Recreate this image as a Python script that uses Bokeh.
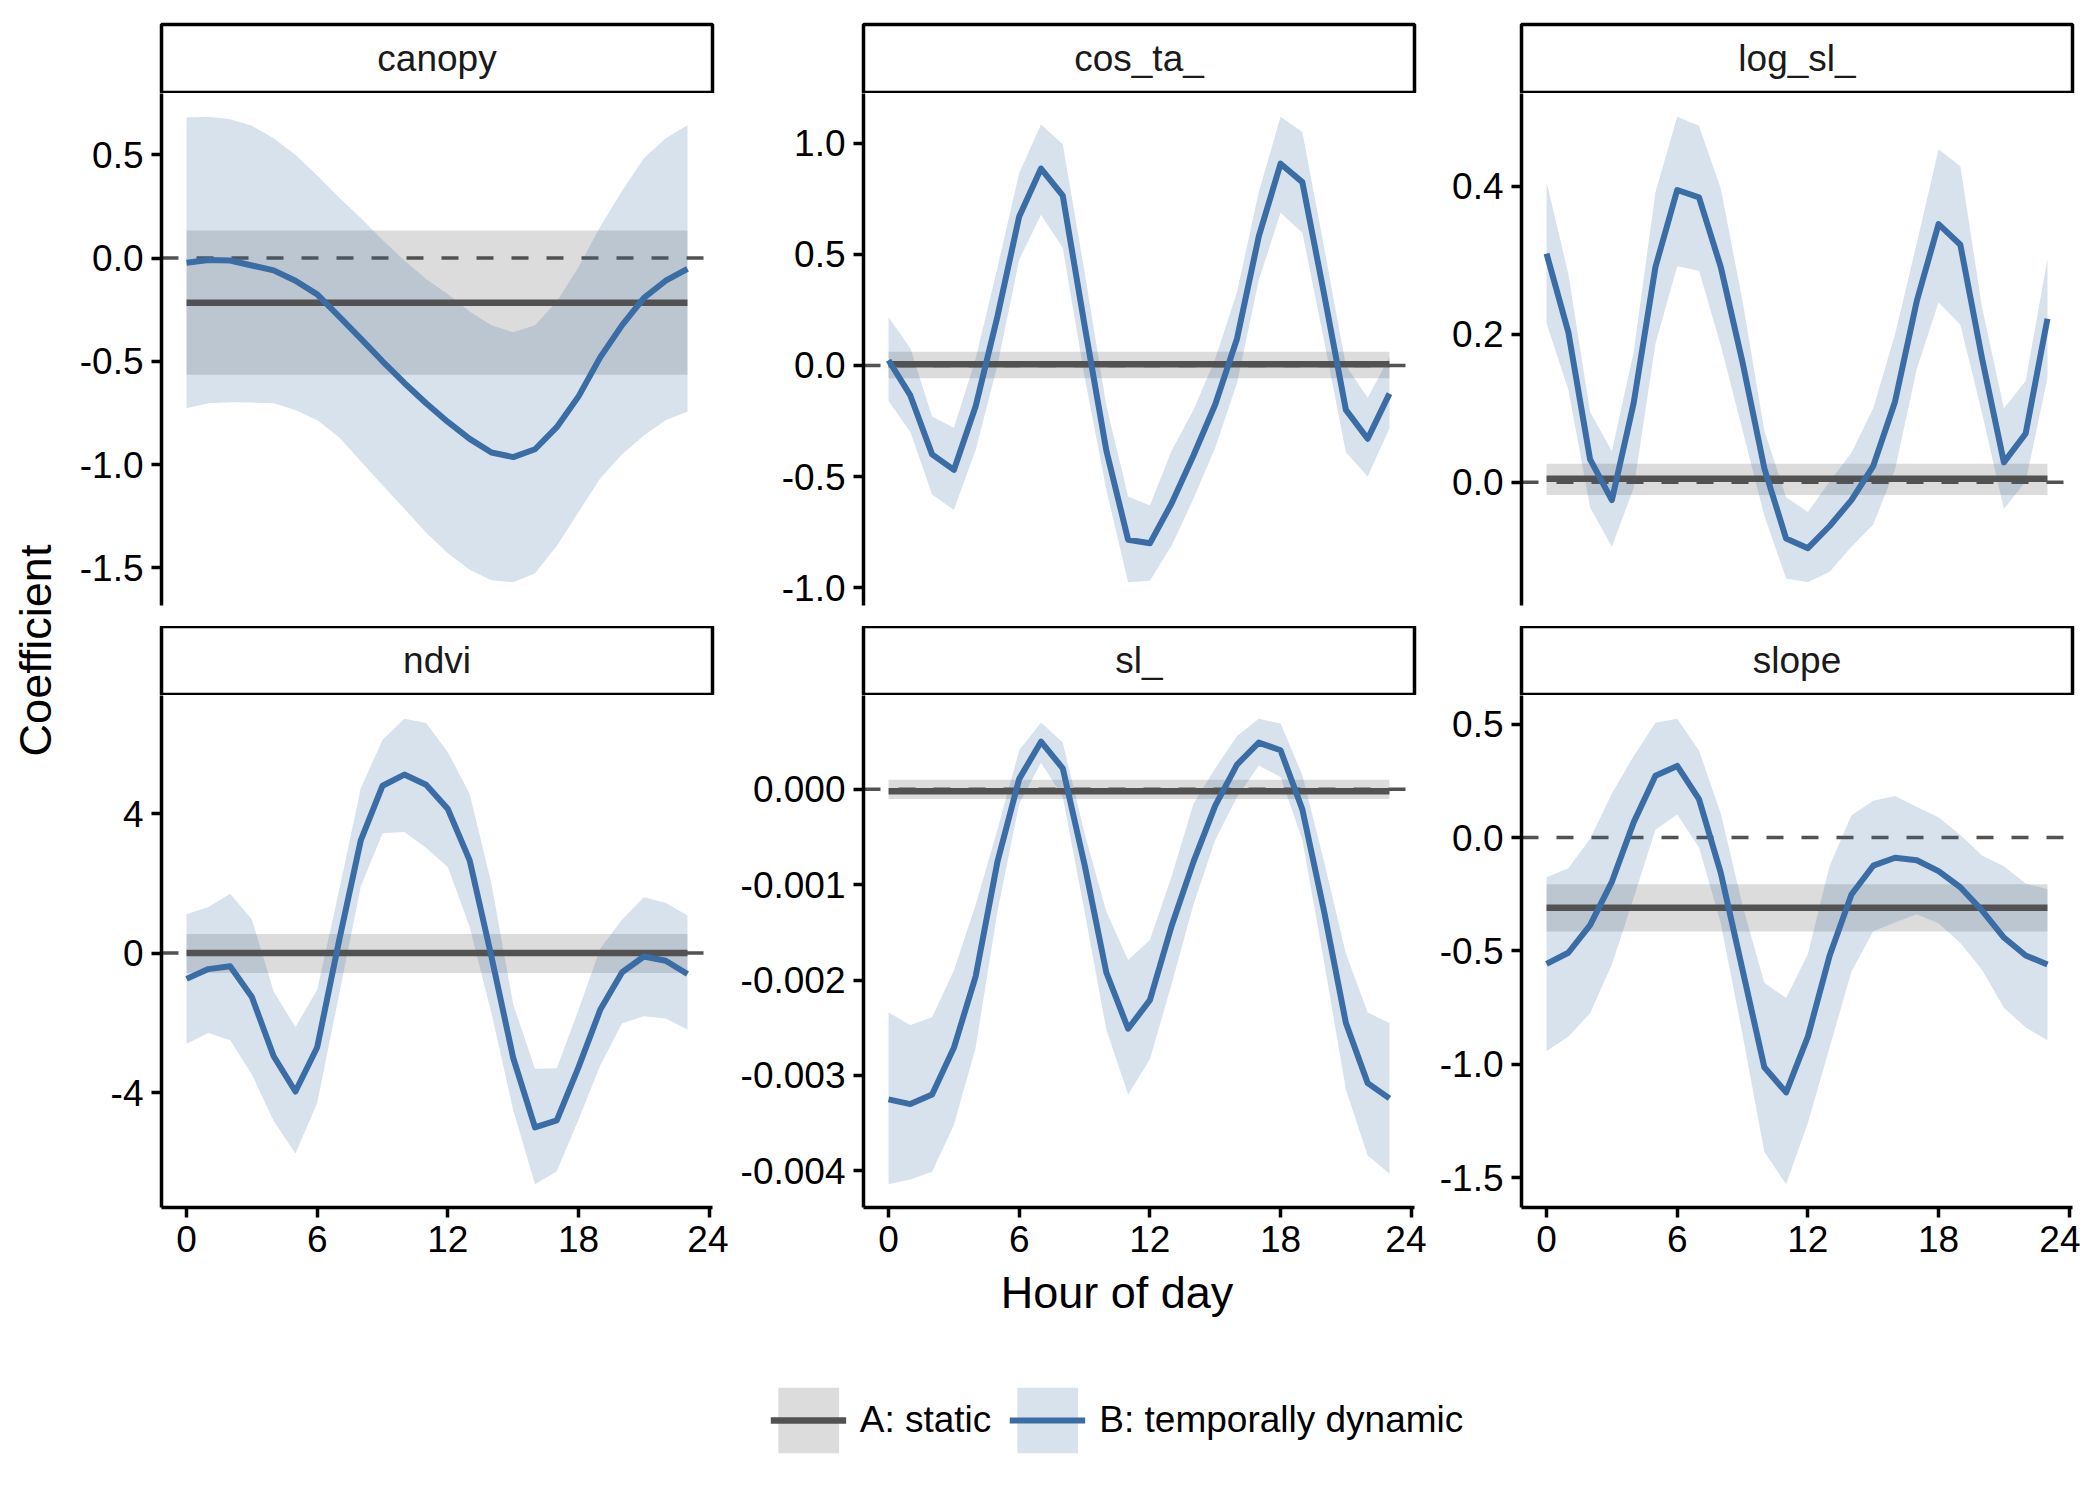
import math
from bokeh.plotting import figure
from bokeh.layouts import row, column
from bokeh.models import Range1d, FixedTicker, Span, Legend, LegendItem, Spacer
from bokeh.core.properties import value
from bokeh.embed import file_html
from bokeh.resources import INLINE

# ---------------- data ----------------
hours = list(range(24))
panel_names = ["canopy", "cos_ta_", "log_sl_", "ndvi", "sl_", "slope"]

canopy_est = [-0.023, -0.010, -0.012, -0.036, -0.060, -0.110, -0.176, -0.283, -0.390, -0.500, -0.605, -0.703,
              -0.794, -0.876, -0.942, -0.964, -0.926, -0.819, -0.670, -0.480, -0.325, -0.193, -0.110, -0.053]
canopy_hi = [0.680, 0.684, 0.672, 0.640, 0.580, 0.500, 0.400, 0.293, 0.194, 0.087, -0.012, -0.102,
             -0.176, -0.259, -0.325, -0.360, -0.325, -0.210, -0.044, 0.153, 0.326, 0.483, 0.580, 0.643]
canopy_lo = [-0.728, -0.703, -0.698, -0.700, -0.703, -0.736, -0.786, -0.868, -0.984, -1.100, -1.214, -1.330,
             -1.430, -1.510, -1.560, -1.570, -1.527, -1.395, -1.230, -1.066, -0.950, -0.860, -0.786, -0.745]

cos_est = [0.023, -0.135, -0.400, -0.470, -0.184, 0.220, 0.670, 0.885, 0.763, 0.180, -0.383, -0.784,
           -0.800, -0.620, -0.405, -0.176, 0.120, 0.580, 0.907, 0.824, 0.320, -0.200, -0.330, -0.127]
cos_hi = [0.217, 0.077, -0.230, -0.280, 0.030, 0.440, 0.865, 1.083, 0.995, 0.420, -0.180, -0.590,
          -0.630, -0.383, -0.200, 0.030, 0.330, 0.780, 1.118, 1.050, 0.530, 0.000, -0.145, 0.038]
cos_lo = [-0.160, -0.300, -0.580, -0.650, -0.380, 0.000, 0.475, 0.677, 0.528, -0.050, -0.560, -0.975,
          -0.968, -0.810, -0.600, -0.370, -0.080, 0.383, 0.686, 0.597, 0.110, -0.390, -0.500, -0.283]

log_est = [0.309, 0.203, 0.031, -0.024, 0.107, 0.291, 0.395, 0.385, 0.291, 0.162, 0.019, -0.076,
           -0.089, -0.059, -0.024, 0.022, 0.109, 0.245, 0.349, 0.321, 0.167, 0.027, 0.066, 0.221]
log_hi = [0.406, 0.282, 0.095, 0.042, 0.176, 0.392, 0.494, 0.482, 0.397, 0.245, 0.070, -0.020,
          -0.040, 0.001, 0.040, 0.100, 0.200, 0.323, 0.450, 0.427, 0.236, 0.100, 0.137, 0.302]
log_lo = [0.215, 0.125, -0.034, -0.087, -0.008, 0.187, 0.292, 0.286, 0.185, 0.070, -0.045, -0.130,
          -0.135, -0.121, -0.087, -0.057, 0.017, 0.153, 0.243, 0.213, 0.093, -0.036, 0.001, 0.141]

ndvi_est = [-0.74, -0.46, -0.38, -1.26, -2.96, -3.97, -2.70, 0.34, 3.23, 4.80, 5.12, 4.83,
            4.13, 2.66, -0.10, -3.01, -5.00, -4.80, -3.27, -1.62, -0.55, -0.10, -0.22, -0.60]
ndvi_hi = [1.11, 1.32, 1.70, 0.96, -1.10, -2.12, -1.05, 1.79, 4.73, 6.12, 6.72, 6.60,
           5.76, 4.57, 1.99, -1.47, -3.32, -3.30, -1.62, 0.13, 0.96, 1.60, 1.44, 1.08]
ndvi_lo = [-2.60, -2.29, -2.50, -3.48, -4.82, -5.75, -4.30, -1.21, 1.91, 3.44, 3.47, 3.02,
           2.46, 0.75, -1.72, -4.51, -6.63, -6.26, -4.77, -3.22, -2.01, -1.81, -1.88, -2.19]

sl_est = [-0.00325, -0.00330, -0.00320, -0.00271, -0.00196, -0.00076, 0.00011, 0.00050, 0.00022, -0.00079,
          -0.00192, -0.00251, -0.00221, -0.00143, -0.00076, -0.00017, 0.00026, 0.00049, 0.00041, -0.00021,
          -0.00128, -0.00245, -0.00308, -0.00324]
sl_hi = [-0.00234, -0.00247, -0.00239, -0.00190, -0.00121, -0.00042, 0.00041, 0.00070, 0.00049, -0.00046,
         -0.00128, -0.00179, -0.00158, -0.00091, -0.00015, 0.00022, 0.00056, 0.00074, 0.00069, 0.00015,
         -0.00076, -0.00172, -0.00234, -0.00245]
sl_lo = [-0.00414, -0.00409, -0.00401, -0.00352, -0.00271, -0.00128, -0.00015, 0.00028, -0.00008, -0.00128,
         -0.00252, -0.00320, -0.00283, -0.00204, -0.00121, -0.00053, -0.00008, 0.00025, 0.00013, -0.00053,
         -0.00181, -0.00315, -0.00384, -0.00403]

slope_est = [-0.557, -0.508, -0.386, -0.195, 0.067, 0.273, 0.316, 0.170, -0.156, -0.584, -1.013, -1.124,
             -0.878, -0.520, -0.251, -0.124, -0.089, -0.100, -0.148, -0.219, -0.322, -0.441, -0.520, -0.560]
slope_hi = [-0.175, -0.135, -0.005, 0.194, 0.360, 0.506, 0.524, 0.384, 0.106, -0.300, -0.640, -0.708,
            -0.513, -0.124, 0.098, 0.162, 0.183, 0.135, 0.090, 0.011, -0.079, -0.127, -0.203, -0.227]
slope_lo = [-0.941, -0.878, -0.775, -0.560, -0.267, 0.035, 0.102, -0.044, -0.378, -0.870, -1.386, -1.529,
            -1.259, -0.925, -0.592, -0.413, -0.375, -0.338, -0.378, -0.465, -0.584, -0.751, -0.838, -0.894]

dyn_est = [canopy_est, cos_est, log_est, ndvi_est, sl_est, slope_est]
dyn_hi = [canopy_hi, cos_hi, log_hi, ndvi_hi, sl_hi, slope_hi]
dyn_lo = [canopy_lo, cos_lo, log_lo, ndvi_lo, sl_lo, slope_lo]

static_est = [-0.217, 0.005, 0.005, 0.0, -0.00002, -0.310]
static_lo = [-0.565, -0.058, -0.017, -0.57, -0.0001, -0.414]
static_hi = [0.133, 0.061, 0.025, 0.55, 0.0001, -0.206]

ytick_values = [
    [0.5, 0.0, -0.5, -1.0, -1.5],
    [1.0, 0.5, 0.0, -0.5, -1.0],
    [0.4, 0.2, 0.0],
    [4.0, 0.0, -4.0],
    [0.0, -0.001, -0.002, -0.003, -0.004],
    [0.5, 0.0, -0.5, -1.0, -1.5],
]
ytick_labels = [
    ["0.5", "0.0", "-0.5", "-1.0", "-1.5"],
    ["1.0", "0.5", "0.0", "-0.5", "-1.0"],
    ["0.4", "0.2", "0.0"],
    ["4", "0", "-4"],
    ["0.000", "-0.001", "-0.002", "-0.003", "-0.004"],
    ["0.5", "0.0", "-0.5", "-1.0", "-1.5"],
]
xtick_values = [0, 6, 12, 18, 24]
xtick_labels = ["0", "6", "12", "18", "24"]
legend_labels = ["A: static", "B: temporally dynamic"]
x_title = "Hour of day"
y_title = "Coefficient"

# ---------------- style ----------------
FONT = "Liberation Sans"
STATIC = "#525252"
DYN = "#3A6CA5"
ZERO = "#525252"
FW, FH, SH = 551, 512, 68
SMALL = "37px"
BIG = "45px"
LW_DYN = 6
LW_STATIC = 6.5
col_borders = [(92, 16), (135, 12), (95, 8)]
LEFT_PAD = 161


def style_axis(ax):
    ax.axis_line_width = 3.5
    ax.axis_line_color = "black"
    ax.major_tick_line_width = 3.5
    ax.major_tick_line_color = "black"
    ax.major_tick_out = 10
    ax.major_tick_in = 0
    ax.minor_tick_line_color = None
    ax.major_label_text_font = FONT
    ax.major_label_text_font_size = SMALL
    ax.major_label_text_color = "black"
    ax.major_label_standoff = 8


def make_panel(i, show_x, bl, br):
    est, lo, hi = dyn_est[i], dyn_lo[i], dyn_hi[i]
    s_est, s_lo, s_hi = static_est[i], static_lo[i], static_hi[i]
    ymin = min(min(lo), s_lo, 0.0)
    ymax = max(max(hi), s_hi, 0.0)
    pad = 0.05 * (ymax - ymin)
    x0, x1 = min(hours), max(hours)
    xpad = 0.05 * (x1 - x0)
    p = figure(frame_width=FW, frame_height=FH,
               x_range=Range1d(x0 - xpad, x1 + xpad),
               y_range=Range1d(ymin - pad, ymax + pad),
               output_backend="svg", toolbar_location=None,
               x_axis_location="below" if show_x else None,
               y_axis_location="left",
               min_border_left=bl, min_border_right=br,
               min_border_top=0, min_border_bottom=55 if show_x else 21,
               outline_line_color=None,
               background_fill_color="white", border_fill_color="white")
    p.grid.visible = False
    zero = Span(location=0, dimension="width", line_color=ZERO, line_width=3.5,
                line_dash="17 18", level="underlay")
    p.add_layout(zero)
    n = len(hours)
    p.varea(x=hours, y1=[s_lo] * n, y2=[s_hi] * n, fill_color=STATIC, fill_alpha=0.2)
    p.varea(x=hours, y1=lo, y2=hi, fill_color=DYN, fill_alpha=0.2)
    p.line(x=hours, y=[s_est] * n, line_color=STATIC, line_width=LW_STATIC)
    p.line(x=hours, y=est, line_color=DYN, line_width=LW_DYN, line_join="round")
    ya = p.yaxis[0]
    ya.ticker = FixedTicker(ticks=ytick_values[i])
    ya.major_label_overrides = {v: l for v, l in zip(ytick_values[i], ytick_labels[i])}
    style_axis(ya)
    if show_x:
        xa = p.xaxis[0]
        xa.ticker = FixedTicker(ticks=xtick_values)
        xa.major_label_overrides = {v: l for v, l in zip(xtick_values, xtick_labels)}
        style_axis(xa)
    return p


def make_strip(i, bl, br, top):
    s = figure(frame_width=FW, frame_height=SH,
               x_range=Range1d(0, 1), y_range=Range1d(0, 1),
               x_axis_location=None, y_axis_location=None,
               min_border_left=bl, min_border_right=br,
               min_border_top=top, min_border_bottom=1,
               outline_line_color="black", outline_line_width=3.5,
               background_fill_color="white", border_fill_color="white",
               toolbar_location=None, output_backend="svg")
    s.grid.visible = False
    s.text(x=[0.5], y=[0.5], text=[panel_names[i]], text_align="center",
           text_baseline="middle", text_font=value(FONT), text_font_size=SMALL,
           text_color="#1a1a1a")
    return s


strips1 = [make_strip(c, col_borders[c][0], col_borders[c][1], 24) for c in range(3)]
mains1 = [make_panel(c, False, col_borders[c][0], col_borders[c][1]) for c in range(3)]
strips2 = [make_strip(3 + c, col_borders[c][0], col_borders[c][1], 0) for c in range(3)]
mains2 = [make_panel(3 + c, True, col_borders[c][0], col_borders[c][1]) for c in range(3)]

grid = column(row(*strips1), row(*mains1), row(*strips2), row(*mains2))

ylab = figure(width=69, frame_height=1114, min_border_top=93, min_border_bottom=55,
              min_border_left=0, min_border_right=0,
              x_range=Range1d(0, 1), y_range=Range1d(0, 1),
              x_axis_location=None, y_axis_location=None, outline_line_color=None,
              toolbar_location=None, output_backend="svg")
ylab.grid.visible = False
ylab.text(x=[0.5], y=[0.5], text=[y_title], angle=math.pi / 2, text_align="center",
          text_baseline="middle", text_font=value(FONT), text_font_size=BIG, text_color="black")

xlab = figure(frame_width=1911, frame_height=60, min_border=0,
              x_range=Range1d(0, 1), y_range=Range1d(0, 1),
              x_axis_location=None, y_axis_location=None, outline_line_color=None,
              toolbar_location=None, output_backend="svg")
xlab.grid.visible = False
xlab.text(x=[0.5], y=[0.5], text=[x_title], text_align="center", text_baseline="middle",
          text_font=value(FONT), text_font_size=BIG, text_color="black")

# legend figure: glyph renderers whose data sit outside the visible range,
# only used so that the legend can draw its keys
lf = figure(frame_width=1911, frame_height=150, min_border=0,
            x_range=Range1d(0, 1), y_range=Range1d(0, 1),
            x_axis_location=None, y_axis_location=None, outline_line_color=None,
            toolbar_location=None, output_backend="svg")
lf.grid.visible = False
off_x = [5, 6]
off_y = [5, 5]
ra = lf.varea(x=off_x, y1=off_y, y2=off_y, fill_color=STATIC, fill_alpha=0.2)
la = lf.line(x=off_x, y=off_y, line_color=STATIC, line_width=LW_STATIC)
rb = lf.varea(x=off_x, y1=off_y, y2=off_y, fill_color=DYN, fill_alpha=0.2)
lb = lf.line(x=off_x, y=off_y, line_color=DYN, line_width=LW_DYN)
legend = Legend(items=[LegendItem(label=legend_labels[0], renderers=[ra, la]),
                       LegendItem(label=legend_labels[1], renderers=[rb, lb])],
                location="top_center", orientation="horizontal", margin=57,
                glyph_width=76, glyph_height=82, label_standoff=14, spacing=18,
                padding=0, border_line_color=None, background_fill_alpha=0,
                label_text_font=FONT, label_text_font_size=SMALL, label_text_color="black")
lf.add_layout(legend)

page = column(row(ylab, grid),
              row(Spacer(width=LEFT_PAD), xlab),
              row(Spacer(width=LEFT_PAD), lf))

open("out.html", "w").write(file_html(page, INLINE))
